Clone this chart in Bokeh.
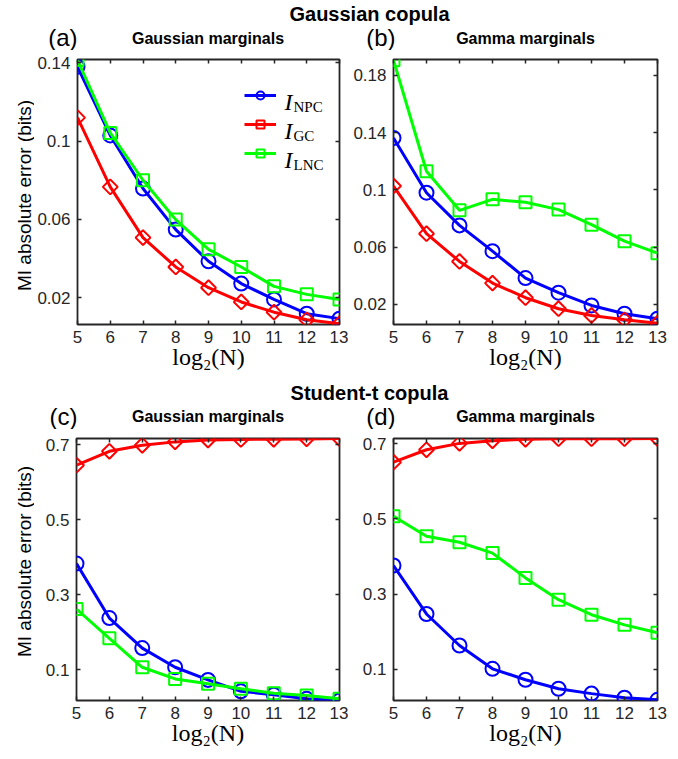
import math
from bokeh.plotting import figure
from bokeh.layouts import column, row
from bokeh.models import (Range1d, FixedTicker, LinearAxis, Label, Legend, LegendItem)
from bokeh.embed import file_html
from bokeh.resources import INLINE

# ---------------- data ----------------
log2N = [5, 6, 7, 8, 9, 10, 11, 12, 13]

a_npc = [0.138, 0.1029, 0.0758, 0.0548, 0.0386, 0.0272, 0.0191, 0.0118, 0.0093]
a_gc = [0.112, 0.0766, 0.0507, 0.0357, 0.0251, 0.0178, 0.0126, 0.0087, 0.0067]
a_lnc = [0.1414, 0.1042, 0.0800, 0.0599, 0.0447, 0.0357, 0.0258, 0.0217, 0.0191]

b_npc = [0.1362, 0.0980, 0.0752, 0.0572, 0.0384, 0.0282, 0.0193, 0.0135, 0.0100]
b_gc = [0.1027, 0.0694, 0.0500, 0.0349, 0.0247, 0.0170, 0.0123, 0.0093, 0.0069]
b_lnc = [0.1905, 0.1130, 0.0857, 0.0934, 0.0913, 0.0862, 0.0757, 0.0642, 0.0558]

c_npc = [0.383, 0.238, 0.158, 0.107, 0.0734, 0.043, 0.034, 0.023, 0.0185]
c_gc = [0.645, 0.682, 0.698, 0.707, 0.712, 0.7135, 0.714, 0.715, 0.716]
c_lnc = [0.262, 0.184, 0.107, 0.076, 0.063, 0.0495, 0.038, 0.032, 0.023]

d_npc = [0.376, 0.247, 0.163, 0.101, 0.072, 0.048, 0.035, 0.024, 0.0186]
d_gc = [0.651, 0.684, 0.701, 0.708, 0.712, 0.7135, 0.7135, 0.7135, 0.714]
d_lnc = [0.507, 0.454, 0.438, 0.409, 0.343, 0.285, 0.245, 0.218, 0.197]

x_ticks = [5, 6, 7, 8, 9, 10, 11, 12, 13]
x_tick_labels = ["5", "6", "7", "8", "9", "10", "11", "12", "13"]
ya_ticks = [0.02, 0.06, 0.1, 0.14]
ya_tick_labels = ["0.02", "0.06", "0.1", "0.14"]
yb_ticks = [0.02, 0.06, 0.1, 0.14, 0.18]
yb_tick_labels = ["0.02", "0.06", "0.1", "0.14", "0.18"]
ycd_ticks = [0.1, 0.3, 0.5, 0.7]
ycd_tick_labels = ["0.1", "0.3", "0.5", "0.7"]

series_names = ["NPC", "GC", "LNC"]
series_colors = ["#0000FF", "#FF0000", "#00FF00"]

copula_titles = ["Gaussian copula", "Student-t copula"]
panel_letters = [["(a)", "(b)"], ["(c)", "(d)"]]
panel_subtitles = ["Gaussian marginals", "Gamma marginals"]
YLAB = "MI absolute error (bits)"
XLAB = "log\u2082(N)"

TICK_COLOR = "#262626"
SANS = "Liberation Sans"
SERIF = "Liberation Serif"

STRIP_H = 50
ROW_H = 329
YL_W = 34
LEFT_W = 314
RIGHT_W = 330


def overrides(ticks, labels):
    return {t: l for t, l in zip(ticks, labels)}


def style_axis(ax, ticks, hidden=False):
    ax.ticker = FixedTicker(ticks=ticks)
    ax.axis_line_color = None
    ax.major_tick_in = 4
    ax.major_tick_out = 0
    ax.major_tick_line_color = TICK_COLOR
    ax.major_tick_line_width = 1.5
    ax.minor_tick_line_color = None
    if hidden:
        ax.major_label_text_color = None
        ax.major_label_text_font_size = "1px"
        ax.major_label_standoff = 0
    else:
        ax.major_label_text_font = SANS
        ax.major_label_text_font_size = "17px"
        ax.major_label_text_color = TICK_COLOR


def make_panel(yr, yticks, ylabels, series, width, bl, br, bt, bb, legend=False):
    p = figure(width=width, height=ROW_H, output_backend="svg", toolbar_location=None,
               x_range=Range1d(5, 13), y_range=Range1d(*yr),
               min_border_left=bl, min_border_right=br, min_border_top=bt,
               min_border_bottom=bb)
    p.grid.visible = False
    p.outline_line_color = TICK_COLOR
    p.outline_line_width = 1.8

    xa = p.xaxis[0]
    style_axis(xa, x_ticks)
    xa.major_label_overrides = overrides(x_ticks, x_tick_labels)
    xa.major_label_standoff = 6
    xa.axis_label = XLAB
    xa.axis_label_text_font = SERIF
    xa.axis_label_text_font_style = "normal"
    xa.axis_label_text_font_size = "24px"
    xa.axis_label_text_color = "black"
    xa.axis_label_standoff = -2

    ya = p.yaxis[0]
    style_axis(ya, yticks)
    ya.major_label_overrides = overrides(yticks, ylabels)
    ya.major_label_standoff = 7

    top = LinearAxis()
    style_axis(top, x_ticks, hidden=True)
    right = LinearAxis()
    style_axis(right, yticks, hidden=True)
    p.add_layout(top, "above")
    p.add_layout(right, "right")

    items = []
    for (ys, name, col, marker) in series:
        ln = p.line(log2N, ys, line_color=col, line_width=3)
        if marker == "diamond":
            sc = p.scatter(log2N, ys, marker="square", size=10.5, angle=math.pi / 4,
                           fill_color=None, line_color=col, line_width=2)
        elif marker == "square":
            sc = p.scatter(log2N, ys, marker="square", size=12,
                           fill_color=None, line_color=col, line_width=2)
        else:
            sc = p.scatter(log2N, ys, marker="circle", size=14,
                           fill_color=None, line_color=col, line_width=2)
        items.append(LegendItem(label=name, renderers=[ln, sc]))

    fh = ROW_H - bt - bb
    if legend:
        lg = Legend(items=items, location=(167, fh - 104), orientation="vertical",
                    padding=0, margin=0, spacing=9, glyph_width=32, glyph_height=20,
                    label_height=20, label_standoff=17,
                    label_text_font=SERIF, label_text_font_size="15px",
                    label_text_color=None,
                    border_line_color=None, background_fill_alpha=0)
        p.add_layout(lg)
        # I with subscript, drawn next to each legend glyph
        for k, name in enumerate(series_names):
            base = fh - 42 - 29 * k
            p.add_layout(Label(x=207, y=base, x_units="screen", y_units="screen", text="I",
                               text_align="left", text_baseline="alphabetic",
                               text_font=SERIF, text_font_style="italic",
                               text_font_size="24px", text_color="black"))
            p.add_layout(Label(x=216, y=base - 5, x_units="screen", y_units="screen", text=name,
                               text_align="left", text_baseline="alphabetic",
                               text_font=SERIF, text_font_size="15px", text_color="black"))
    return p


def ylabel_fig(center_y):
    f = figure(width=YL_W, height=ROW_H, output_backend="svg", toolbar_location=None,
               x_range=Range1d(0, 1), y_range=Range1d(0, 1),
               x_axis_location=None, y_axis_location=None, min_border=0)
    f.grid.visible = False
    f.outline_line_color = None
    f.add_layout(Label(x=23.5, y=center_y, x_units="screen", y_units="screen", text=YLAB,
                       angle=math.pi / 2, text_align="center", text_baseline="middle",
                       text_font=SANS, text_font_size="19px", text_color="black"))
    return f


def strip(title, letters, title_y, letter_y, sub_y):
    s = figure(width=678, height=STRIP_H, output_backend="svg", toolbar_location=None,
               x_range=Range1d(0, 1), y_range=Range1d(0, 1),
               x_axis_location=None, y_axis_location=None, min_border=0)
    s.grid.visible = False
    s.outline_line_color = None
    s.add_layout(Label(x=369, y=title_y, x_units="screen", y_units="screen", text=title,
                       text_align="center", text_baseline="middle", text_font=SANS,
                       text_font_style="bold", text_font_size="20px", text_color="black"))
    for lx, letter in zip([77, 395], letters):
        s.add_layout(Label(x=lx, y=letter_y, x_units="screen", y_units="screen", text=letter,
                           text_align="right", text_baseline="middle", text_font=SANS,
                           text_font_size="24px", text_color="black"))
    for sx, sub in zip([207.5, 525], panel_subtitles):
        s.add_layout(Label(x=sx, y=sub_y, x_units="screen", y_units="screen", text=sub,
                           text_align="center", text_baseline="middle", text_font=SANS,
                           text_font_style="bold", text_font_size="16px", text_color="black"))
    return s


def series_of(npc, gc, lnc):
    return [(npc, series_names[0], series_colors[0], "circle"),
            (gc, series_names[1], series_colors[1], "diamond"),
            (lnc, series_names[2], series_colors[2], "square")]


pa = make_panel((0.0063, 0.1417), ya_ticks, ya_tick_labels, series_of(a_npc, a_gc, a_lnc),
                LEFT_W, 42, 9, 9, 55, legend=True)
pb = make_panel((0.006, 0.191), yb_ticks, yb_tick_labels, series_of(b_npc, b_gc, b_lnc),
                RIGHT_W, 45, 21, 9, 55)
pc = make_panel((0.0185, 0.716), ycd_ticks, ycd_tick_labels, series_of(c_npc, c_gc, c_lnc),
                LEFT_W, 42, 9, 9, 58)
pd = make_panel((0.0167, 0.714), ycd_ticks, ycd_tick_labels, series_of(d_npc, d_gc, d_lnc),
                RIGHT_W, 45, 21, 9, 58)

# row 1 spans page y 50..379, row 2 spans 429..758
s1 = strip(copula_titles[0], panel_letters[0], STRIP_H - 13, STRIP_H - 37, STRIP_H - 38)
s2 = strip(copula_titles[1], panel_letters[1], STRIP_H - 13, STRIP_H - 36.5, STRIP_H - 36.5)
yl1 = ylabel_fig(129)
yl2 = ylabel_fig(139)

layout = column(s1, row(yl1, pa, pb), s2, row(yl2, pc, pd))

open("out.html", "w").write(file_html(layout, INLINE))
